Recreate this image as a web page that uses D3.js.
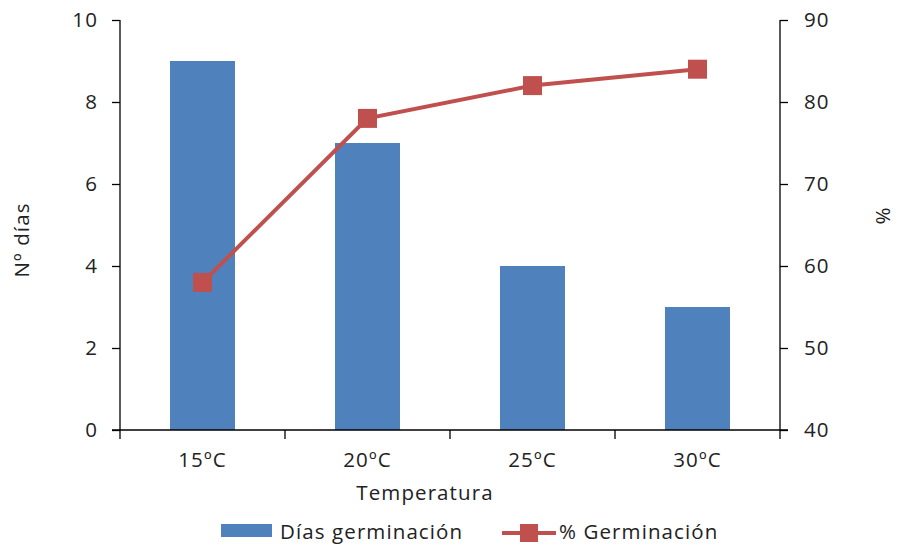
<!DOCTYPE html>
<html><head><meta charset="utf-8">
<script src="https://cdn.jsdelivr.net/npm/d3@7"></script>
<style>body{margin:0;background:#fff}svg{display:block}text{font-family:"Open Sans",sans-serif;fill:#222}</style>
</head><body><svg id="c" width="897" height="545"></svg>
<script>
const categories = ["15ºC","20ºC","25ºC","30ºC"];
const diasValues = [9,7,4,3];
const germValues = [58,78,82,84];
const leftTicks = [0,2,4,6,8,10];
const rightTicks = [40,50,60,70,80,90];

const svg = d3.select("#c");
const L=120,R=780,T=20,B=430;
const xc = d3.scaleBand().domain(categories).range([L,R]);
const yL = d3.scaleLinear().domain([0,10]).range([B,T]);
const yR = d3.scaleLinear().domain([40,90]).range([B,T]);
const blue="#4F81BD", red="#C0504D";
const fs=20.5, ls="1.1px";

svg.selectAll("rect.bar").data(diasValues).join("rect").attr("class","bar")
  .attr("x",(d,i)=>xc(categories[i])+xc.bandwidth()/2-32.5).attr("width",65)
  .attr("y",d=>yL(d)).attr("height",d=>B-yL(d)).attr("fill",blue);

const gl=svg.append("g").attr("transform",`translate(${L},0)`)
  .call(d3.axisLeft(yL).tickValues(leftTicks).tickSize(8).tickPadding(14));
const gr=svg.append("g").attr("transform",`translate(${R},0)`)
  .call(d3.axisRight(yR).tickValues(rightTicks).tickSize(8).tickPadding(16));
const gb=svg.append("g").attr("transform",`translate(0,${B})`)
  .call(d3.axisBottom(xc).tickSize(0).tickPadding(22));
svg.append("g").selectAll("line").data(d3.range(5)).join("line")
  .attr("x1",i=>L+i*xc.step()).attr("x2",i=>L+i*xc.step())
  .attr("y1",B).attr("y2",B+9).attr("stroke","#000").attr("stroke-width",1.3);
svg.append("line").attr("x1",L-8).attr("x2",R+8).attr("y1",B).attr("y2",B).attr("stroke","#000").attr("stroke-width",1.3);
[gl,gr,gb].forEach(g=>{
  g.select(".domain").attr("stroke","#000").attr("stroke-width",1.3);
  g.selectAll(".tick line").attr("stroke","#000").attr("stroke-width",1.3);
  g.selectAll("text").attr("font-size",fs).attr("letter-spacing",ls).attr("font-family","'Open Sans',sans-serif").attr("fill","#222");
});
gl.select(".domain").attr("d",`M-0,${T}V${B}`);
gr.select(".domain").attr("d",`M0,${T}V${B}`);
gb.select(".domain").remove();

const line=d3.line().x((d,i)=>xc(categories[i])+xc.bandwidth()/2).y(d=>yR(d));
svg.append("path").datum(germValues).attr("d",line).attr("fill","none").attr("stroke",red).attr("stroke-width",4);
const ms=19;
svg.selectAll("rect.mk").data(germValues).join("rect").attr("class","mk")
  .attr("x",(d,i)=>xc(categories[i])+xc.bandwidth()/2-ms/2).attr("y",d=>yR(d)-ms/2)
  .attr("width",ms).attr("height",ms).attr("fill",red);

svg.append("text").attr("x",425).attr("y",500).attr("text-anchor","middle").attr("font-size",fs).attr("letter-spacing",ls).text("Temperatura");
svg.append("text").attr("transform","translate(29,240) rotate(-90)").attr("text-anchor","middle").attr("font-size",fs).attr("letter-spacing",ls).text("Nº días");
svg.append("text").attr("transform","translate(876,216) rotate(90)").attr("text-anchor","middle").attr("font-size",fs).text("%");

svg.append("rect").attr("x",221).attr("y",524).attr("width",51).attr("height",13).attr("fill",blue);
svg.append("text").attr("x",280).attr("y",539).attr("font-size",fs).attr("letter-spacing",ls).text("Días germinación");
svg.append("line").attr("x1",502).attr("x2",556).attr("y1",533).attr("y2",533).attr("stroke",red).attr("stroke-width",4);
svg.append("rect").attr("x",520).attr("y",524).attr("width",18).attr("height",18).attr("fill",red);
svg.append("text").attr("x",559).attr("y",539).attr("font-size",fs).attr("letter-spacing",ls).text("% Germinación");
</script></body></html>
